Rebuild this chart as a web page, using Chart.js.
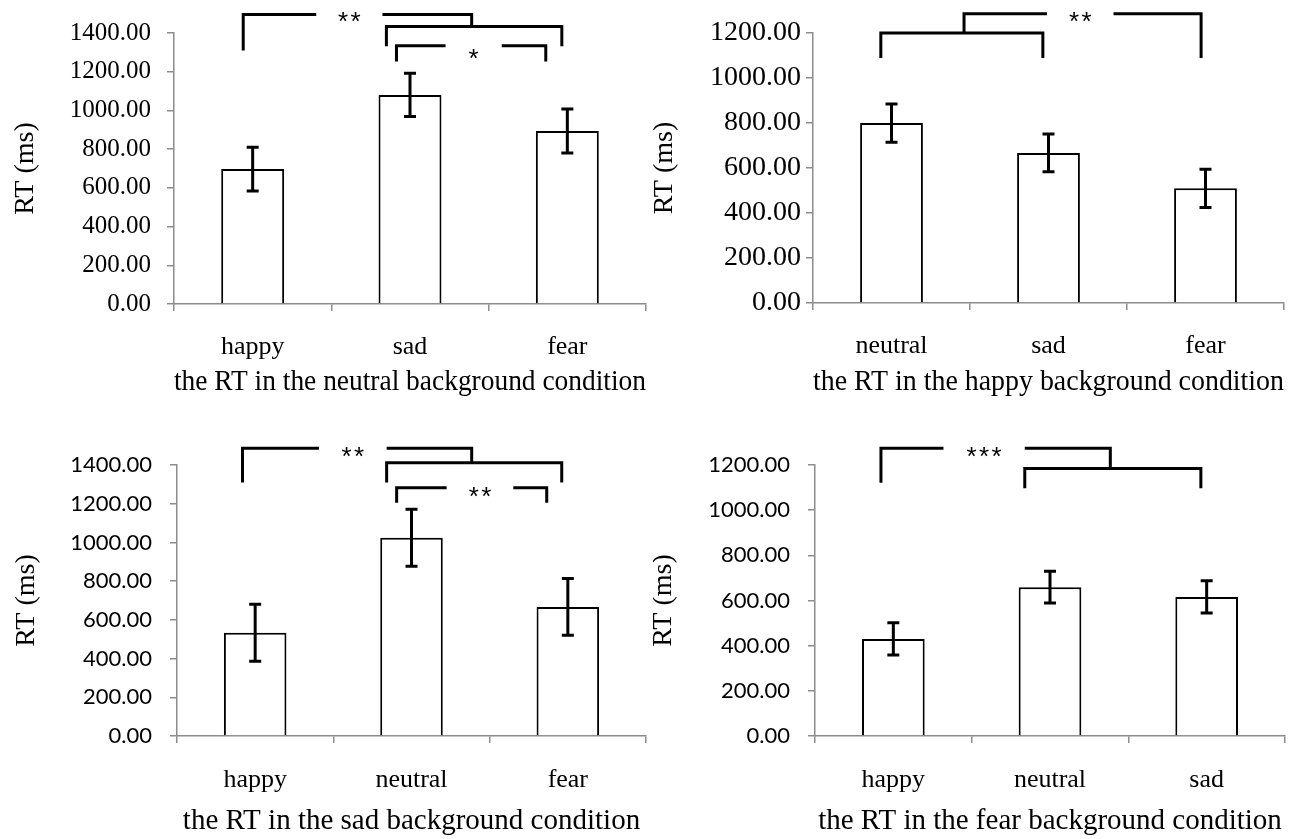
<!DOCTYPE html>
<html><head><meta charset="utf-8">
<script src="https://cdn.jsdelivr.net/npm/chart.js@4"></script>
<style>
html,body{margin:0;padding:0;background:#fff;width:1306px;height:839px;overflow:hidden}
.p{position:absolute}
canvas{display:block}
</style></head><body>
<div class="p" style="left:0;top:0"><canvas id="c1" width="653" height="419"></canvas></div>
<div class="p" style="left:653px;top:0"><canvas id="c2" width="653" height="419"></canvas></div>
<div class="p" style="left:0;top:419px"><canvas id="c3" width="653" height="420"></canvas></div>
<div class="p" style="left:653px;top:419px"><canvas id="c4" width="653" height="420"></canvas></div>
<script>
// ---- data ----
const categories1 = ['happy', 'sad', 'fear'];
const means1 = [697, 1080, 894];
const errors1 = [113, 112, 114];
const title1 = 'the RT in the neutral background condition';

const categories2 = ['neutral', 'sad', 'fear'];
const means2 = [800, 667, 510];
const errors2 = [85, 84, 85];
const title2 = 'the RT in the happy background condition';

const categories3 = ['happy', 'neutral', 'fear'];
const means3 = [533, 1024, 667];
const errors3 = [147, 147, 147];
const title3 = 'the RT in the sad background condition';

const categories4 = ['happy', 'neutral', 'sad'];
const means4 = [430, 659, 616];
const errors4 = [71, 70, 71];
const title4 = 'the RT in the fear background condition';

const yMaxes = [1400, 1200, 1400, 1200];
const yStep = 200;
const yAxisTitle = 'RT (ms)';

// significance brackets (x in category index units, y in ms)
const brackets1 = [
  {x1: -0.06, x2: 1.392, y: 1495, left: 1310, right: 1434, gap: [0.404, 0.825], label: '**', dy: 2},
  {x1: 0.85, x2: 1.965, y: 1434, left: 1331, right: 1331},
  {x1: 0.914, x2: 1.863, y: 1334, left: 1253, right: 1253, gap: [1.226, 1.583], label: '*', dy: 8}
];
const brackets2 = [
  {x1: -0.068, x2: 0.964, y: 1200, left: 1089, right: 1089},
  {x1: 0.462, x2: 1.972, y: 1286, left: 1200, right: 1089, gap: [0.99, 1.414], label: '**', dy: 3}
];
const brackets3 = [
  {x1: -0.081, x2: 1.385, y: 1486, left: 1309, right: 1412, gap: [0.408, 0.841], label: '**', dy: 3},
  {x1: 0.841, x2: 1.961, y: 1412, left: 1309, right: 1309},
  {x1: 0.905, x2: 1.865, y: 1283, left: 1205, right: 1205, gap: [1.225, 1.651], label: '**', dy: 4}
];
const brackets4 = [
  {x1: -0.079, x2: 1.385, y: 1274, left: 1121, right: 1185, gap: [0.32, 0.839], label: '***', dy: 4},
  {x1: 0.839, x2: 1.963, y: 1185, left: 1097, right: 1097}
];

// ---- rendering ----
const SERIF = "'Liberation Serif', 'Times New Roman', serif";
const SANS = "Lato, 'Open Sans', sans-serif";
const STAR = "26px 'Liberation Sans', Arial, sans-serif";
const AXIS = '#8c8c8c';

const annotPlugin = {
  id: 'annot',
  afterDatasetsDraw(chart) {
    const o = chart.options.plugins.annot;
    const meta = chart.getDatasetMeta(0);
    const ys = chart.scales.y;
    const ctx = chart.ctx;
    ctx.save();
    ctx.strokeStyle = '#000';
    ctx.lineWidth = 3;
    ctx.lineCap = 'butt';
    meta.data.forEach((bar, i) => {
      const m = o.means[i], e = o.errors[i];
      const yt = ys.getPixelForValue(m + e), yb = ys.getPixelForValue(m - e);
      const x = bar.x, c = 6;
      ctx.beginPath();
      ctx.moveTo(x, yt); ctx.lineTo(x, yb);
      ctx.moveTo(x - c, yt); ctx.lineTo(x + c, yt);
      ctx.moveTo(x - c, yb); ctx.lineTo(x + c, yb);
      ctx.stroke();
    });
    ctx.restore();
  },
  afterDraw(chart) {
    const o = chart.options.plugins.annot;
    const xs = chart.scales.x, ys = chart.scales.y;
    const X = v => xs.getPixelForValue(v), Y = v => ys.getPixelForValue(v);
    const ctx = chart.ctx;
    ctx.save();
    ctx.strokeStyle = '#000';
    ctx.fillStyle = '#000';
    ctx.lineWidth = 3;
    ctx.lineJoin = 'miter';
    o.brackets.forEach(b => {
      ctx.beginPath();
      if (b.left != null) { ctx.moveTo(X(b.x1), Y(b.left)); ctx.lineTo(X(b.x1), Y(b.y)); }
      else ctx.moveTo(X(b.x1), Y(b.y));
      if (b.gap) { ctx.lineTo(X(b.gap[0]), Y(b.y)); ctx.moveTo(X(b.gap[1]), Y(b.y)); }
      ctx.lineTo(X(b.x2), Y(b.y));
      if (b.right != null) ctx.lineTo(X(b.x2), Y(b.right));
      ctx.stroke();
      if (b.label) {
        ctx.font = STAR;
        ctx.textAlign = 'center';
        ctx.textBaseline = 'middle';
        const n = b.label.length, sp = 12.5;
        const cx = X((b.gap[0] + b.gap[1]) / 2);
        const cy = Y(b.y) + b.dy + 6;
        for (let k = 0; k < n; k++) {
          ctx.fillText(b.label[k], cx + (k - (n - 1) / 2) * sp, cy);
        }
      }
    });
    ctx.restore();
  }
};

function makeChart(id, cats, means, errs, brs, yMax, title, L) {
  new Chart(document.getElementById(id), {
    type: 'bar',
    data: {
      labels: cats,
      datasets: [{
        data: means,
        backgroundColor: '#ffffff',
        borderColor: '#000000',
        borderWidth: 2,
        categoryPercentage: 1.0,
        barPercentage: 0.4
      }]
    },
    plugins: [annotPlugin],
    options: {
      responsive: false,
      animation: false,
      devicePixelRatio: 1,
      layout: {padding: {top: L.top, right: L.right, left: 0, bottom: 0}},
      plugins: {
        legend: {display: false},
        tooltip: {enabled: false},
        annot: {means: means, errors: errs, brackets: brs}
      },
      scales: {
        x: {
          grid: {display: true, drawOnChartArea: false, drawTicks: true, tickLength: 7, color: AXIS, lineWidth: 1.5, offset: true},
          border: {color: AXIS, width: 1.5},
          ticks: {color: '#000', font: {family: SERIF, size: 26}, padding: L.xPad, maxRotation: 0},
          title: {display: true, text: title, color: '#000', font: {family: SERIF, size: 29, lineHeight: 1.2}, padding: {top: 0, bottom: L.tPad}},
          afterFit(s) { s.height = L.xH; }
        },
        y: {
          min: 0, max: yMax,
          grid: {display: true, drawOnChartArea: false, drawTicks: true, tickLength: 7, color: AXIS, lineWidth: 1.5},
          border: {color: AXIS, width: 1.5},
          ticks: {stepSize: yStep, color: '#000', font: {family: L.yFont, size: L.ySize}, padding: L.yPad,
            callback: v => Number(v).toFixed(2)},
          title: {display: true, text: yAxisTitle, color: '#000', font: {family: SERIF, size: 28, lineHeight: 1}, padding: {top: L.yTPad, bottom: 0}},
          afterFit(s) { s.width = L.yW; }
        }
      }
    }
  });
}

makeChart('c1', categories1, means1, errors1, brackets1, yMaxes[0], title1,
  {top: 33, right: 7, yW: 174, xH: 115, xPad: 21, tPad: 19, yFont: SERIF, ySize: 25, yPad: 16, yTPad: 12});
makeChart('c2', categories2, means2, errors2, brackets2, yMaxes[1], title2,
  {top: 33, right: 22, yW: 160, xH: 116, xPad: 21, tPad: 19, yFont: SERIF, ySize: 28, yPad: 5, yTPad: -2});
makeChart('c3', categories3, means3, errors3, brackets3, yMaxes[2], title3,
  {top: 46, right: 7, yW: 177, xH: 103, xPad: 22, tPad: 0, yFont: SANS, ySize: 22, yPad: 18, yTPad: 13});
makeChart('c4', categories4, means4, errors4, brackets4, yMaxes[3], title4,
  {top: 46, right: 21, yW: 162, xH: 103, xPad: 22, tPad: 0, yFont: SANS, ySize: 22, yPad: 18, yTPad: -3});
</script>
</body></html>
